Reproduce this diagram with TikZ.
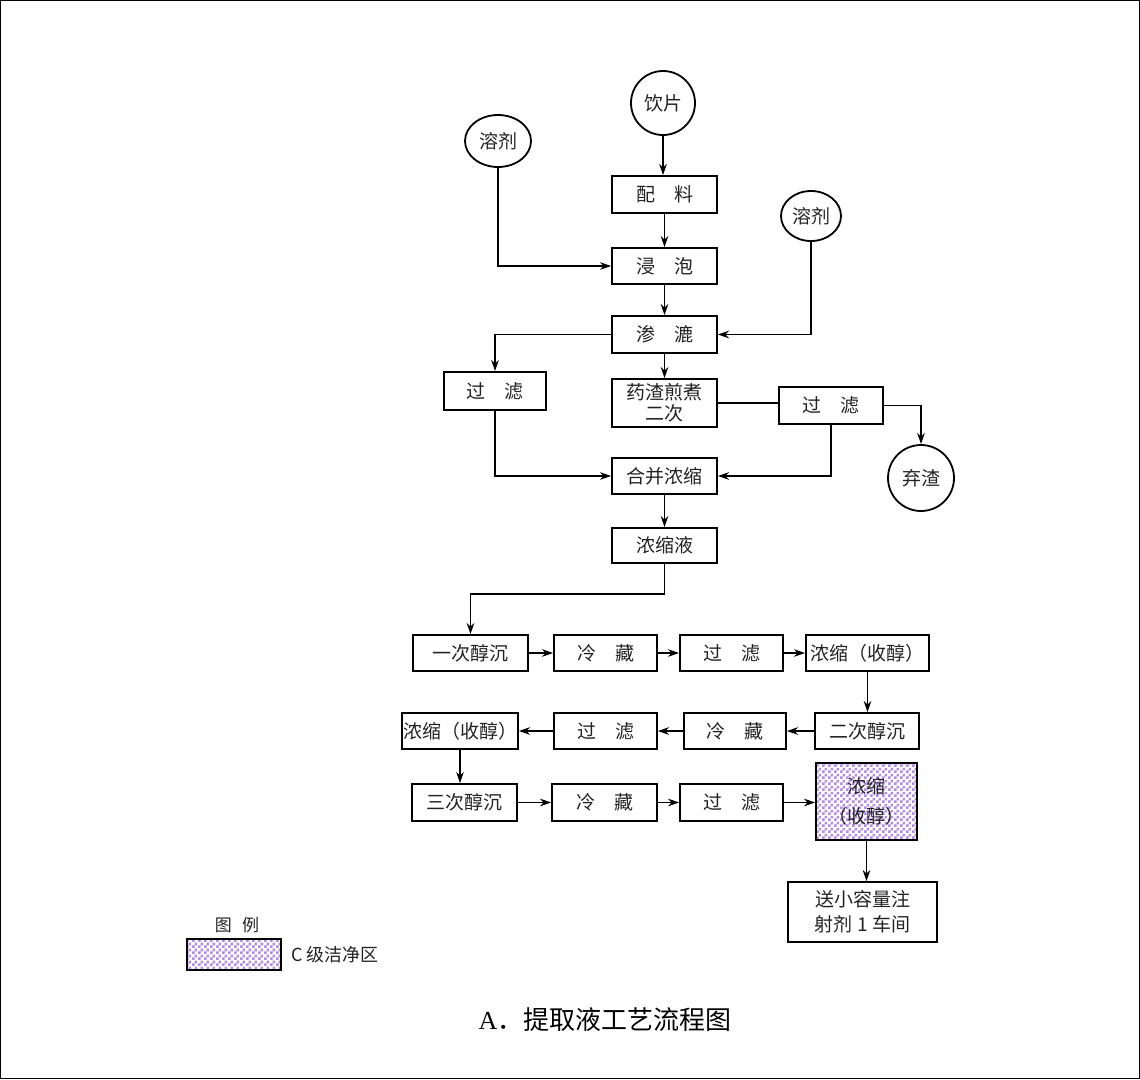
\documentclass[tikz,border=0pt]{standalone}
\usepackage{fontspec}
\setmainfont{Liberation Serif}
\newfontfamily\cjk{Noto Sans CJK SC}
\usetikzlibrary{arrows.meta,shapes.geometric,patterns.meta}
\definecolor{chk}{HTML}{B08CE2}
\definecolor{ink}{HTML}{222222}
\tikzdeclarepattern{name=finechk,type=uncolored,
  bounding box={(0pt,0pt) and (6pt,6pt)},tile size={(6pt,6pt)},
  code={\pgfpathrectangle{\pgfpoint{0pt}{0pt}}{\pgfpoint{3pt}{3pt}}
        \pgfpathrectangle{\pgfpoint{3pt}{3pt}}{\pgfpoint{3pt}{3pt}}
        \pgfusepath{fill}}}
\begin{document}
\begin{tikzpicture}[x=1pt,y=-1pt,line width=1.8pt,
  lbl/.style={font=\cjk\fontsize{19}{21}\selectfont,text=ink},
  box/.style={draw,inner sep=0pt,align=center,lbl},
  rnd/.style={draw,circle,inner sep=0pt,lbl},
  ell/.style={draw,ellipse,inner sep=0pt,lbl},
  cz/.style={preaction={fill=white},pattern=finechk,pattern color=chk},
  arr/.style={-{Stealth[length=11pt,width=7.5pt,inset=3.5pt]}}]
\useasboundingbox (0,0) rectangle (1140,1079);
\draw[line width=1pt] (0.5,0.5) rectangle (1139.5,1078.5);

% top part
\node[rnd,minimum size=64pt] (yp) at (663,103) {饮片};
\node[ell,minimum width=66pt,minimum height=52pt] (sl) at (498,141) {溶剂};
\node[ell,minimum width=60pt,minimum height=50pt] (sr) at (811,216) {溶剂};
\node[box,minimum width=105pt,minimum height=37pt] (pl) at (664.5,194.5) {配\hspace{1em}料};
\node[box,minimum width=105pt,minimum height=36pt] (jp) at (664.5,266) {浸\hspace{1em}泡};
\node[box,minimum width=105pt,minimum height=37pt] (sll) at (664.5,334.5) {渗\hspace{1em}漉};
\node[box,minimum width=102pt,minimum height=38pt] (gl) at (495,391) {过\hspace{1em}滤};
\node[box,minimum width=105pt,minimum height=48pt] (yz) at (664.5,403) {药渣煎煮\\二次};
\node[box,minimum width=104pt,minimum height=37pt] (gr) at (831,405.5) {过\hspace{1em}滤};
\node[rnd,minimum size=66pt] (qz) at (921,478) {弃渣};
\node[box,minimum width=105pt,minimum height=36pt] (hb) at (664.5,476) {合并浓缩};
\node[box,minimum width=105pt,minimum height=35pt] (nsy) at (664.5,545.5) {浓缩液};

% row 1
\node[box,minimum width=115pt,minimum height=36pt] (r1a) at (470.5,653) {一次醇沉};
\node[box,minimum width=103pt,minimum height=36pt] (r1b) at (605.5,653) {冷\hspace{1em}藏};
\node[box,minimum width=103pt,minimum height=36pt] (r1c) at (731.5,653) {过\hspace{1em}滤};
\node[box,minimum width=123pt,minimum height=36pt] (r1d) at (867.5,653) {浓缩（收醇）};
% row 2
\node[box,minimum width=116pt,minimum height=36pt] (r2a) at (460,731) {浓缩（收醇）};
\node[box,minimum width=103pt,minimum height=36pt] (r2b) at (605.5,731) {过\hspace{1em}滤};
\node[box,minimum width=102pt,minimum height=36pt] (r2c) at (735,731) {冷\hspace{1em}藏};
\node[box,minimum width=104pt,minimum height=36pt] (r2d) at (867,731) {二次醇沉};
% row 3
\node[box,minimum width=105pt,minimum height=37pt] (r3a) at (464.5,802.5) {三次醇沉};
\node[box,minimum width=105pt,minimum height=37pt] (r3b) at (604.5,802.5) {冷\hspace{1em}藏};
\node[box,minimum width=103pt,minimum height=37pt] (r3c) at (731.5,802.5) {过\hspace{1em}滤};
\node[box,cz,minimum width=101pt,minimum height=77pt] (r3d) at (866.5,801.5) {浓缩\\[9pt]（收醇）};
\node[box,minimum width=149pt,minimum height=60pt,font=\cjk\fontsize{19}{25}\selectfont] (fin) at (862.5,912) {送小容量注\\射剂 1 车间};

% connectors top
\draw[arr] (yp.south) -- (yp.south |- pl.north);
\draw[arr] (pl) -- (jp);
\draw[arr] (jp) -- (sll);
\draw[arr] (sl.south) |- (jp.west);
\draw[arr] (sr.south) |- (sll.east);
\draw[arr] (sll.west) -| (gl.north);
\draw[arr] (sll) -- (yz);
\draw (yz.east) -- (yz.east -| gr.west);
\draw[arr] (gr.east) -| (qz.north);
\draw[arr] (gr.south) |- (hb.east);
\draw[arr] (gl.south) |- (hb.west);
\draw[arr] (hb) -- (nsy);
\draw[arr] (nsy.south) -- ++(0,30) -| (r1a.north);

% rows
\draw[arr] (r1a) -- (r1b);
\draw[arr] (r1b) -- (r1c);
\draw[arr] (r1c) -- (r1d);
\draw[arr] (r1d.south) -- (r1d.south |- r2d.north);
\draw[arr] (r2d) -- (r2c);
\draw[arr] (r2c) -- (r2b);
\draw[arr] (r2b) -- (r2a);
\draw[arr] (r2a.south) -- (r2a.south |- r3a.north);
\draw[arr] (r3a) -- (r3b);
\draw[arr] (r3b) -- (r3c);
\draw[arr] (r3c.east) -- (r3c.east -| r3d.west);
\draw[arr] (r3d.south) -- (r3d.south |- fin.north);

% legend
\node[lbl,font=\cjk\fontsize{17}{19}\selectfont] (lgt) at (237,925) {图\hspace{0.6em}例};
\node[draw,cz,inner sep=0pt,minimum width=94pt,minimum height=31pt] (lgb) at (234,954.5) {};
\node[lbl,anchor=west,font=\cjk\fontsize{18}{20}\selectfont] (lgc) at (287,955) {C 级洁净区};

% caption
\node[text=black] (cap) at (605,1020) {\fontsize{26}{28}\selectfont A{\cjk ．提取液工艺流程图}};
\end{tikzpicture}
\end{document}
